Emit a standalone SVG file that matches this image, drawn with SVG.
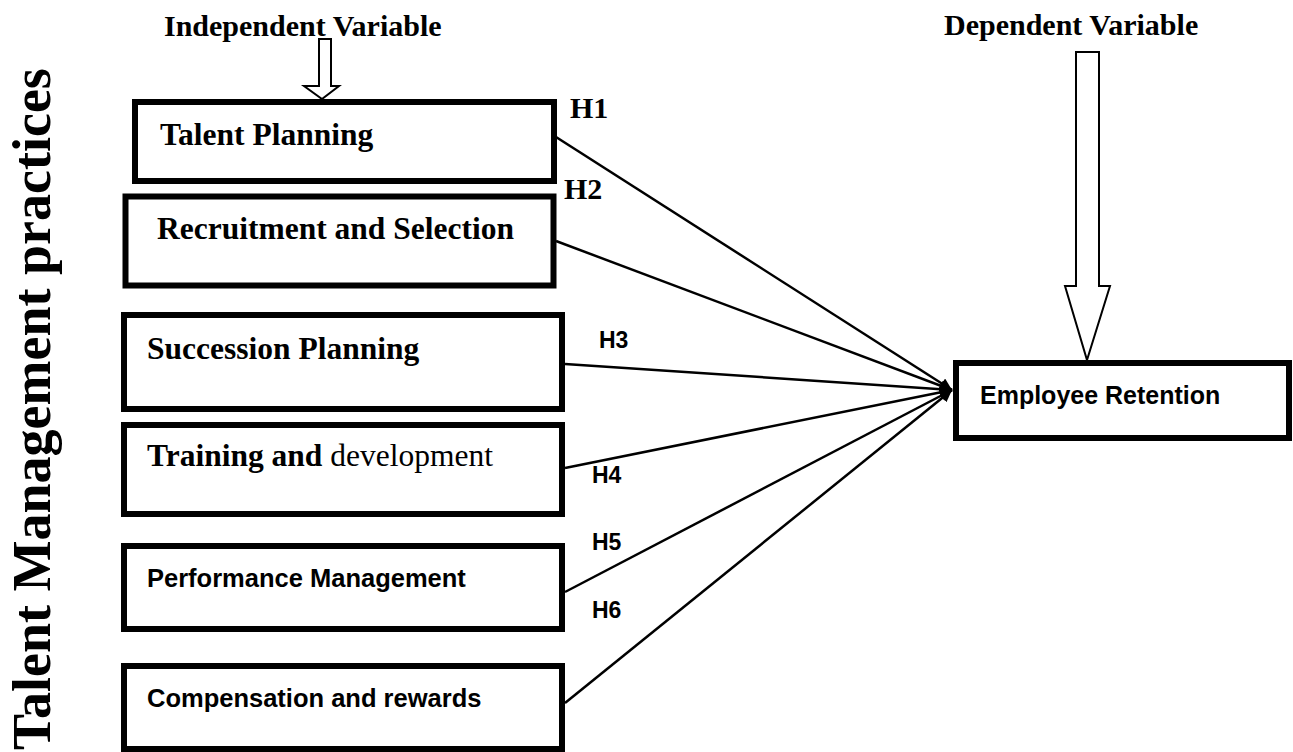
<svg xmlns="http://www.w3.org/2000/svg" width="1293" height="752" viewBox="0 0 1293 752">
<style>
.box{fill:#fff;stroke:#000;stroke-width:6}
.serif{font-family:"Liberation Serif","Times New Roman",serif;font-weight:bold;fill:#000}
.sans{font-family:"Liberation Sans",Arial,sans-serif;font-weight:bold;fill:#000}
.conn{stroke:#000;stroke-width:2.5;fill:none}
.blk{fill:#fff;stroke:#000;stroke-width:2;stroke-linejoin:miter}
</style>
<defs>
<marker id="ah" markerUnits="userSpaceOnUse" markerWidth="14" markerHeight="12" refX="12" refY="6" orient="auto">
<path d="M0,0 L12,6 L0,12 z" fill="#000"/>
</marker>
</defs>
<rect width="1293" height="752" fill="#fff"/>

<text class="serif" font-size="54" transform="translate(50,750) rotate(-90)">Talent Management practices</text>

<g id="label-independent">
<text class="serif" font-size="30" x="164" y="36">Independent Variable</text>
<polygon class="blk" points="319,39 331,39 331,86 339,86 322,99 304,86 319,86"/>
</g>
<g id="label-dependent">
<text class="serif" font-size="30" x="944" y="35">Dependent Variable</text>
<polygon class="blk" points="1076,52 1099,52 1099,286 1110,286 1087,360 1065,286 1076,286"/>
</g>

<g id="connectors">
<line class="conn" x1="556" y1="137" x2="952" y2="390" marker-end="url(#ah)"/>
<line class="conn" x1="556" y1="241" x2="952" y2="390" marker-end="url(#ah)"/>
<line class="conn" x1="565" y1="364" x2="952" y2="390" marker-end="url(#ah)"/>
<line class="conn" x1="565" y1="468" x2="952" y2="390" marker-end="url(#ah)"/>
<line class="conn" x1="565" y1="592" x2="952" y2="390" marker-end="url(#ah)"/>
<line class="conn" x1="565" y1="703" x2="952" y2="390" marker-end="url(#ah)"/>
<text class="serif" font-size="30" x="570" y="118">H1</text>
<text class="serif" font-size="30" x="564" y="199">H2</text>
<text class="sans" font-size="23" x="599" y="348">H3</text>
<text class="sans" font-size="23" x="592" y="483">H4</text>
<text class="sans" font-size="23" x="592" y="550">H5</text>
<text class="sans" font-size="23" x="592" y="618">H6</text>
</g>

<g id="talent-planning">
<rect class="box" x="135" y="102" width="419" height="79"/>
<text class="serif" font-size="31.5" x="160" y="145">Talent Planning</text>
</g>
<g id="recruitment">
<rect class="box" x="125.5" y="196.5" width="428" height="89" stroke-width="7"/>
<text class="serif" font-size="31.5" x="157" y="239">Recruitment and Selection</text>
</g>
<g id="succession">
<rect class="box" x="124" y="315" width="438" height="94"/>
<text class="serif" font-size="31.5" x="147" y="359">Succession Planning</text>
</g>
<g id="training">
<rect class="box" x="124" y="425" width="438" height="89"/>
<text class="serif" font-size="31.5" x="147" y="466">Training and <tspan font-weight="normal">development</tspan></text>
</g>
<g id="performance">
<rect class="box" x="124" y="546" width="438" height="83"/>
<text class="sans" font-size="25.5" x="147" y="587">Performance Management</text>
</g>
<g id="compensation">
<rect class="box" x="124" y="666" width="438" height="83"/>
<text class="sans" font-size="25.5" x="147" y="707">Compensation and rewards</text>
</g>
<g id="employee-retention">
<rect class="box" x="956" y="363" width="333" height="75"/>
<text class="sans" font-size="25" x="980" y="404">Employee Retention</text>
</g>
</svg>
